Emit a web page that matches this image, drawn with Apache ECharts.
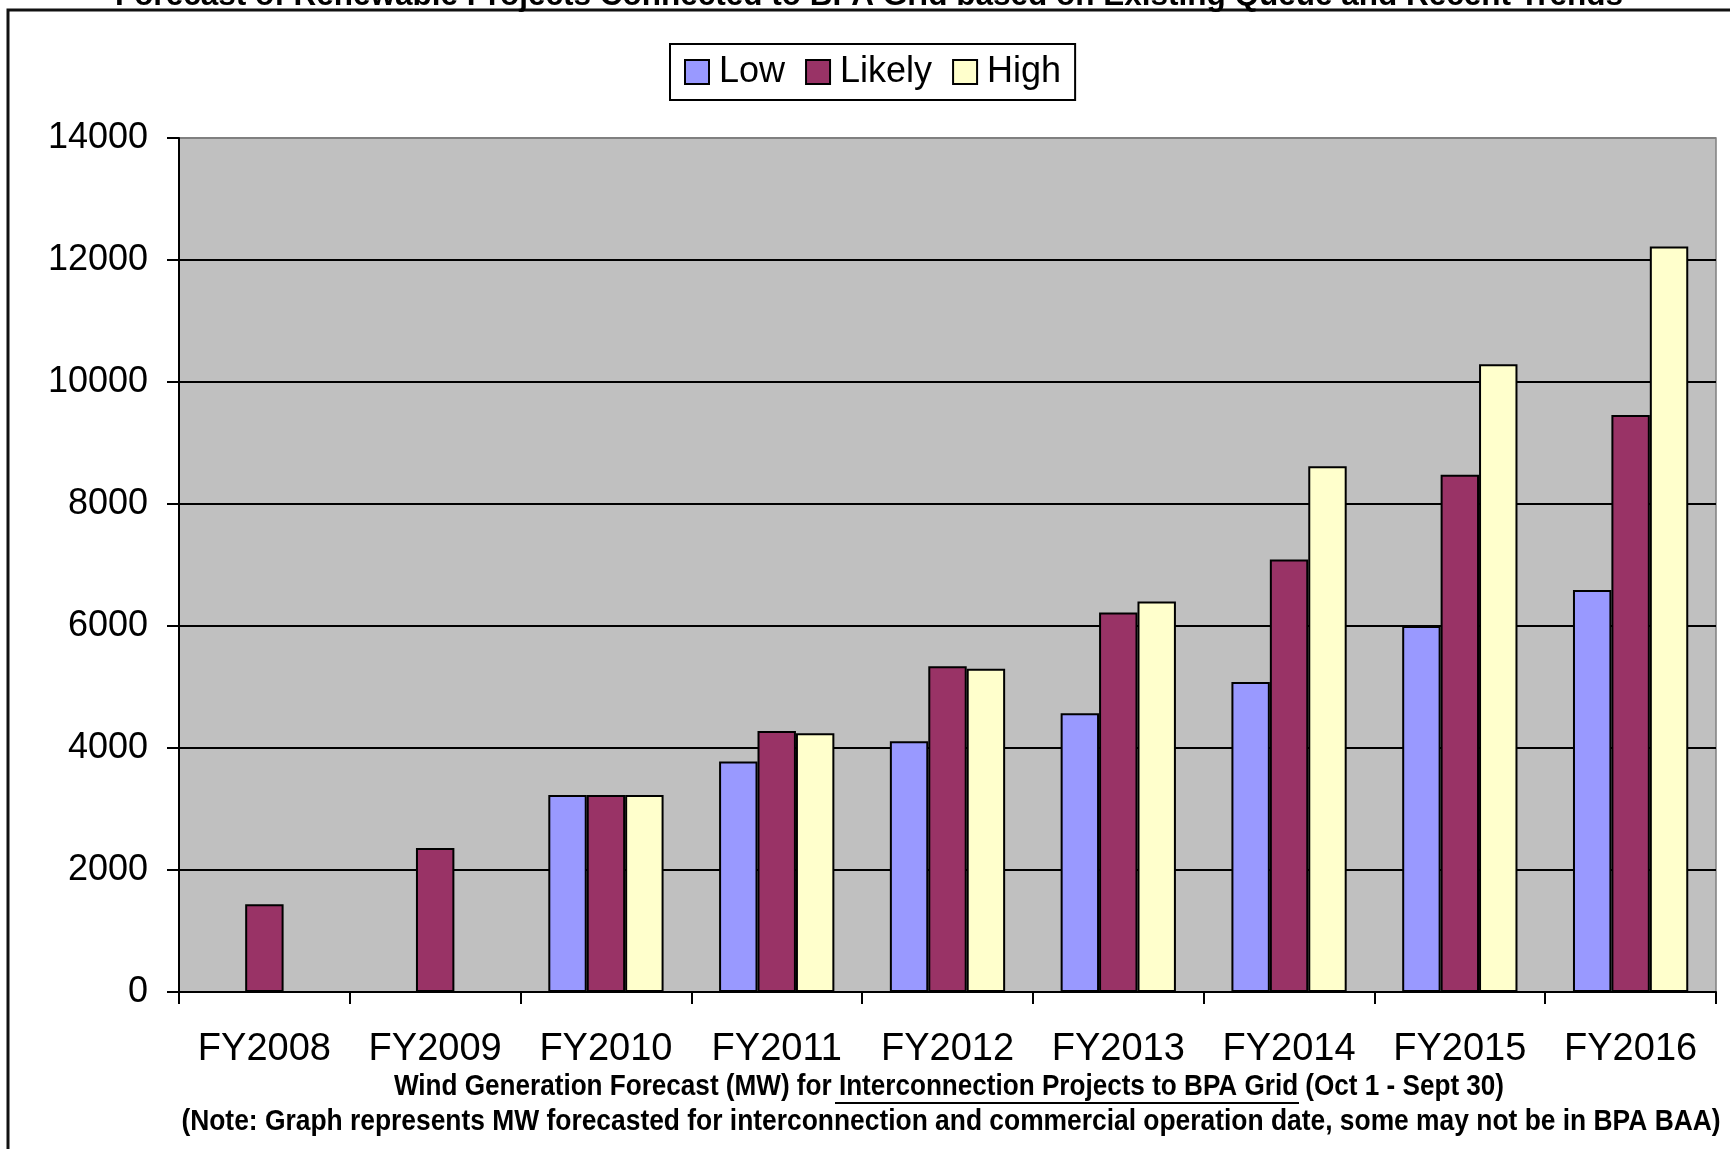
<!DOCTYPE html>
<html>
<head>
<meta charset="utf-8">
<style>
html,body{margin:0;padding:0;background:#fff;}
#chart{width:1730px;height:1149px;}
</style>
<script src="https://cdn.jsdelivr.net/npm/echarts@6/dist/echarts.min.js"></script>
</head>
<body>
<div id="chart"></div>
<script>
var categories = ['FY2008','FY2009','FY2010','FY2011','FY2012','FY2013','FY2014','FY2015','FY2016'];
var lowValues = [null, null, 3230, 3780, 4110, 4570, 5080, 6000, 6590];
var likelyValues = [1440, 2360, 3230, 4280, 5340, 6220, 7090, 8480, 9460];
var highValues = [null, null, 3230, 4240, 5300, 6400, 8620, 10290, 12220];
var seriesNames = ['Low', 'Likely', 'High'];
var yTicks = [0, 2000, 4000, 6000, 8000, 10000, 12000, 14000];

var titleText = 'Forecast of Renewable Projects Connected to BPA Grid based on Existing Queue and Recent Trends';
var noteLine1a = 'Wind Generation Forecast (MW) for ';
var noteLine1b = 'Interconnection Projects to BPA Grid';
var noteLine1c = ' (Oct 1 - Sept 30)';
var noteLine2 = '(Note: Graph represents MW forecasted for interconnection and commercial operation date, some may not be in BPA BAA)';

var FONT = '"Liberation Sans", Arial, sans-serif';
var chart = echarts.init(document.getElementById('chart'), null, {renderer: 'canvas'});

var gridColors = yTicks.map(function (v, i) { return i === yTicks.length - 1 ? '#808080' : '#000000'; });

var colors = ['#9999FF', '#993366', '#FFFFCC'];
var dataSets = [lowValues, likelyValues, highValues];

var option = {
  animation: false,
  backgroundColor: '#ffffff',
  textStyle: {fontFamily: FONT},
  grid: {
    left: 179, right: 14, top: 138, bottom: 157,
    show: true, backgroundColor: '#C0C0C0', borderColor: '#808080', borderWidth: 1.5,
    containLabel: false
  },
  legend: {
    data: seriesNames,
    left: 670, top: 44,
    orient: 'horizontal',
    itemWidth: 24, itemHeight: 24, itemGap: 20,
    padding: [10, 14, 10, 14],
    borderColor: '#000', borderWidth: 2,
    backgroundColor: '#fff',
    icon: 'rect',
    itemStyle: {borderColor: '#000', borderWidth: 2},
    textStyle: {fontFamily: FONT, fontSize: 36, color: '#000', padding: [0, 0, 0, 5]}
  },
  xAxis: {
    type: 'category',
    data: categories,
    boundaryGap: true,
    axisLine: {show: true, lineStyle: {color: '#000', width: 2}},
    axisTick: {show: true, length: 12, lineStyle: {color: '#000', width: 2}},
    axisLabel: {fontFamily: FONT, fontSize: 38, color: '#000', margin: 39, interval: 0},
    splitLine: {show: false}
  },
  yAxis: {
    type: 'value',
    min: 0, max: 14000, interval: 2000,
    axisLine: {show: true, lineStyle: {color: '#000', width: 2}},
    axisTick: {show: true, length: 12, lineStyle: {color: '#000', width: 2}},
    axisLabel: {fontFamily: FONT, fontSize: 36, color: '#000', margin: 31,
                formatter: function (v) { return String(v); }},
    splitLine: {show: true, lineStyle: {color: gridColors, width: 2}}
  },
  series: seriesNames.map(function (name, i) {
    return {
      name: name,
      type: 'bar',
      data: dataSets[i],
      barWidth: '22.5%',
      barGap: '0%',
      itemStyle: {color: colors[i], borderColor: '#000', borderWidth: 2}
    };
  }),
  graphic: [
    {
      type: 'rect', z: -1, silent: true,
      shape: {x: 8, y: 10, width: 1760, height: 1200},
      style: {fill: 'none', stroke: '#111', lineWidth: 3}
    },
    {
      type: 'text', silent: true, x: 869, y: 12, z: 10,
      style: {text: titleText, fontFamily: FONT, fontWeight: 'bold', fontSize: 31.5, fill: '#000',
              textAlign: 'center', textVerticalAlign: 'bottom'}
    },
    {
      type: 'text', silent: true, x: 949, y: 1087, scaleX: 0.9,
      style: {
        text: '{a|' + noteLine1a + '}{b|' + noteLine1b + '}{a|' + noteLine1c + '}',
        textAlign: 'center', textVerticalAlign: 'middle',
        rich: {
          a: {fontFamily: FONT, fontWeight: 'bold', fontSize: 29, fill: '#000', color: '#000'},
          b: {fontFamily: FONT, fontWeight: 'bold', fontSize: 29, fill: '#000', color: '#000'}
        }
      }
    },
    {
      type: 'line', silent: true,
      shape: {x1: 835, y1: 1103, x2: 1299, y2: 1103},
      style: {stroke: '#000', lineWidth: 2}
    },
    {
      type: 'text', silent: true, x: 951, y: 1122, scaleX: 0.91,
      style: {text: noteLine2, fontFamily: FONT, fontWeight: 'bold', fontSize: 29, fill: '#000',
              textAlign: 'center', textVerticalAlign: 'middle'}
    }
  ]
};
chart.setOption(option);
</script>
</body>
</html>
